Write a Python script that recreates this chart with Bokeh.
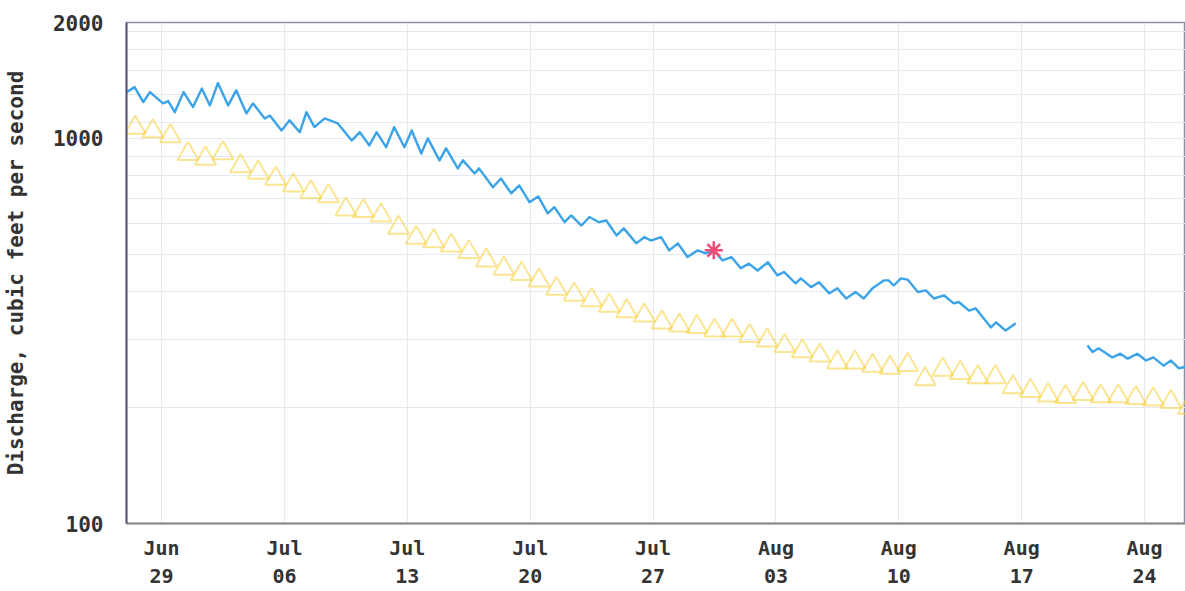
import pandas as pd
from bokeh.plotting import figure
from bokeh.models import Range1d, FixedTicker, DatetimeTickFormatter, PrintfTickFormatter
from bokeh.embed import file_html
from bokeh.resources import INLINE

YEAR = "2019-"

# Instantaneous discharge (cfs), first segment
flow_time_a = [
    "06-27 00:00", "06-27 11:00", "06-27 23:00", "06-28 08:00", "06-29 02:00", "06-29 09:00",
    "06-29 18:00", "06-30 06:00", "06-30 19:00", "07-01 07:00", "07-01 18:00", "07-02 05:00",
    "07-02 19:00", "07-03 06:00", "07-03 20:00", "07-04 05:00", "07-04 21:00", "07-05 04:00",
    "07-05 20:00", "07-06 07:00", "07-06 21:00", "07-07 06:00", "07-07 17:00", "07-08 07:00",
    "07-09 01:00", "07-09 20:00", "07-10 07:00", "07-10 20:00", "07-11 06:00", "07-11 19:00",
    "07-12 06:00", "07-12 20:00", "07-13 06:00", "07-13 19:00", "07-14 04:00", "07-14 20:00",
    "07-15 05:00", "07-15 21:00", "07-16 04:00", "07-16 20:00", "07-17 02:00", "07-17 21:00",
    "07-18 08:00", "07-18 22:00", "07-19 09:00", "07-19 23:00", "07-20 11:00", "07-21 00:00",
    "07-21 09:00", "07-21 23:00", "07-22 08:00", "07-22 22:00", "07-23 09:00", "07-23 22:00",
    "07-24 08:00", "07-24 22:00", "07-25 08:00", "07-26 01:00", "07-26 12:00", "07-26 21:00",
    "07-27 11:00", "07-27 22:00", "07-28 10:00", "07-28 23:00", "07-29 13:00", "07-30 00:00",
    "07-30 11:00", "07-30 23:00", "07-31 11:00", "08-01 00:00", "08-01 11:00", "08-01 23:00",
    "08-02 13:00", "08-03 02:00", "08-03 11:00", "08-04 03:00", "08-04 10:00", "08-05 00:00",
    "08-05 11:00", "08-06 01:00", "08-06 12:00", "08-07 00:00", "08-07 13:00", "08-08 00:00",
    "08-08 12:00", "08-09 04:00", "08-09 10:00", "08-09 17:00", "08-10 03:00", "08-10 12:00",
    "08-11 02:00", "08-11 13:00", "08-12 00:00", "08-12 14:00", "08-13 03:00", "08-13 10:00",
    "08-14 00:00", "08-14 09:00", "08-15 06:00", "08-15 13:00", "08-16 02:00", "08-16 16:00",
]
flow_cfs_a = [
    1319, 1359, 1243, 1319, 1233, 1250,
    1170, 1319, 1206, 1348, 1218, 1392,
    1218, 1333, 1161, 1233, 1127, 1147,
    1049, 1114, 1038, 1170, 1070, 1127,
    1094, 988, 1038, 959, 1038, 949,
    1070, 949, 1049, 914, 1000, 877,
    942, 836, 877, 811, 836, 747,
    787, 720, 755, 683, 707, 639,
    663, 606, 631, 594, 625, 606,
    612, 560, 584, 534, 554, 543,
    554, 512, 534, 492, 512, 503,
    512, 482, 492, 460, 473, 454,
    477, 441, 450, 420, 433, 411,
    423, 396, 408, 384, 399, 384,
    408, 428, 428, 415, 433, 430,
    399, 403, 384, 391, 373, 376,
    357, 362, 323, 333, 317, 331,
]

# Instantaneous discharge (cfs), second segment (after the data gap)
flow_time_b = [
    "08-20 18:00", "08-21 01:00", "08-21 09:00", "08-22 04:00", "08-22 15:00", "08-23 01:00",
    "08-23 14:00", "08-24 02:00", "08-24 12:00", "08-25 02:00", "08-25 12:00", "08-25 23:00",
    "08-26 08:00",
]
flow_cfs_b = [290, 279, 285, 270, 276, 268, 276, 265, 270, 257, 265, 253, 255]

# Daily median discharge (cfs), one per day starting Jun 27 (plotted at noon)
median_start = "06-27 12:00"
median_cfs = [
    1066, 1044, 1014, 912,
    886, 916, 847, 815, 786, 755, 725, 708, 654, 648, 631, 586, 552, 541, 527, 507,
    482, 459, 445, 428, 407, 393, 380, 368, 356, 347, 333, 327, 324, 317, 317,
    307, 299, 289, 280, 273, 262, 262, 257, 254, 258, 237, 251, 246, 240, 240, 226,
    221, 215, 213, 217, 214, 214, 212, 210, 207, 200,
]

# Highlighted measurement
marker_time = ["07-30 11:00"]
marker_cfs = [512]

x_tick_dates = ["06-29", "07-06", "07-13", "07-20", "07-27", "08-03", "08-10", "08-17", "08-24"]
y_tick_values = [100, 1000, 2000]
y_grid_values = [200, 300, 400, 500, 600, 700, 800, 900, 1000, 1100, 1300, 1500, 1700, 1900]
x_start, x_end = "06-27 00:00", "08-26 08:00"


def ts(lst):
    return pd.to_datetime([YEAR + t for t in lst])


median_time = pd.date_range(YEAR + median_start, periods=len(median_cfs), freq="D")
x_ticks_ms = [t.timestamp() * 1000 for t in ts([d + " 00:00" for d in x_tick_dates])]

FONT = "DejaVu Sans Mono"

p = figure(
    width=1185, height=591,
    x_axis_type="datetime", y_axis_type="log",
    x_range=Range1d(ts([x_start])[0], ts([x_end])[0]),
    y_range=Range1d(100, 2000),
    output_backend="svg", toolbar_location=None,
    min_border_left=125, min_border_right=0, min_border_top=22, min_border_bottom=68,
)
p.background_fill_color = "white"
p.border_fill_color = "white"
p.outline_line_color = "#8e8ea2"
p.outline_line_width = 1.5

# grids
p.xgrid.ticker = FixedTicker(ticks=x_ticks_ms)
p.xgrid.grid_line_color = "#e6e9f0"
p.ygrid.ticker = FixedTicker(ticks=y_grid_values)
p.ygrid.grid_line_color = "#e6e9f0"

# axes
p.xaxis.ticker = FixedTicker(ticks=x_ticks_ms)
fmt = "%b\n%d"
p.xaxis.formatter = DatetimeTickFormatter(
    days=fmt, months=fmt, hours=fmt, hourmin=fmt, minutes=fmt, years=fmt,
)
p.yaxis.ticker = FixedTicker(ticks=y_tick_values)
p.yaxis.formatter = PrintfTickFormatter(format="%d")

for ax in (p.xaxis[0], p.yaxis[0]):
    ax.major_tick_line_color = None
    ax.minor_tick_line_color = None
    ax.major_label_text_font = FONT
    ax.major_label_text_font_style = "bold"
    ax.major_label_text_color = "#333333"
    ax.major_label_text_font_size = "21px"

p.xaxis.major_label_text_font_size = "20px"
p.xaxis.axis_line_color = "#8c8c8c"
p.xaxis.axis_line_width = 2
p.xaxis.major_label_standoff = 6
p.yaxis.axis_line_color = "#55557a"
p.yaxis.axis_line_width = 2
p.yaxis.major_label_standoff = 17
p.yaxis.axis_label = "Discharge, cubic feet per second"
p.yaxis.axis_label_text_font = FONT
p.yaxis.axis_label_text_font_style = "bold"
p.yaxis.axis_label_text_font_size = "21px"
p.yaxis.axis_label_text_color = "#333333"
p.yaxis.axis_label_standoff = 22

# median triangles
p.scatter(median_time, median_cfs, marker="triangle", size=21,
          fill_color=None, line_color="#f7cf3a", line_alpha=0.55, line_width=2)

# discharge
p.line(ts(flow_time_a), flow_cfs_a, line_color="#3ba3e8", line_width=2.4, line_join="round")
p.line(ts(flow_time_b), flow_cfs_b, line_color="#3ba3e8", line_width=2.4, line_join="round")

# highlighted point
p.scatter(ts(marker_time), marker_cfs, marker="asterisk", size=18,
          line_color="#ee4d78", line_width=2.5)

open("out.html", "w").write(file_html(p, INLINE))
